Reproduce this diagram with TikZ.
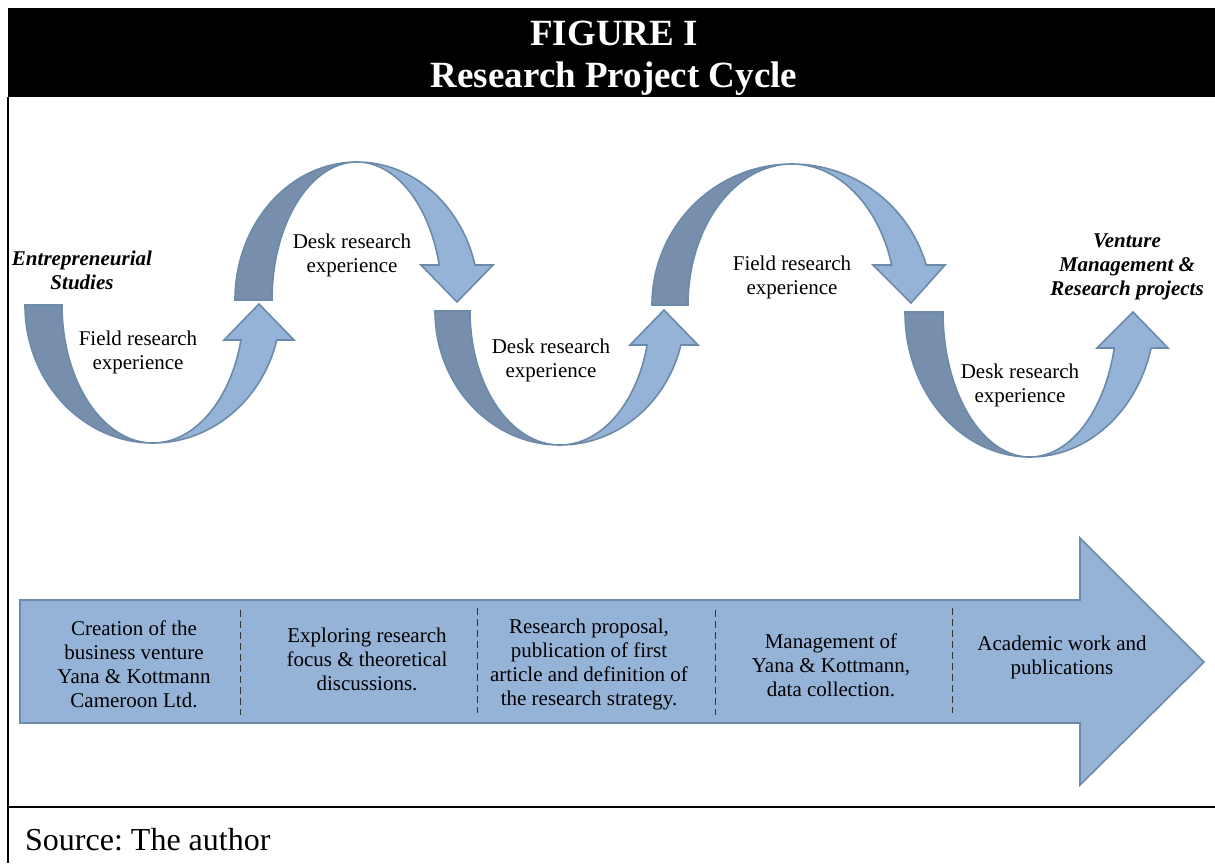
\documentclass[tikz,border=0pt]{standalone}
\usepackage{fontspec}
\setmainfont{Liberation Serif}
\frenchspacing
\definecolor{bandlight}{HTML}{95B3D7}
\definecolor{banddark}{HTML}{778FAC}
\definecolor{bandline}{HTML}{6C8AAA}

\begin{document}
\begin{tikzpicture}[x=1pt,y=1pt,
  lightband/.style={draw=bandline,line width=1.6pt,fill=bandlight},
  darkband/.style={draw=bandline,line width=1.6pt,fill=banddark},
  cyctext/.style={font=\fontsize{21}{24}\selectfont,align=center,inner sep=0pt},
  endtext/.style={font=\fontsize{21}{24}\selectfont\bfseries\itshape,align=center,inner sep=0pt},
  divider/.style={line width=1pt,dash pattern=on 7pt off 4pt,black!80}]

\useasboundingbox (0,0) rectangle (1215,-863);

% frame and title bar
\fill[black] (8,-8) rectangle (1215,-97);
\draw[line width=2pt] (8,-97) -- (8,-863);
\draw[line width=2pt] (8,-807) -- (1215,-807);
\node[font=\fontsize{37}{42}\selectfont\bfseries,text=white,align=center,inner sep=0pt] (title) at (614,-58) {FIGURE I\\Research Project Cycle};

% first loop down
\draw[darkband] (25,-305) arc[start angle=180,end angle=270,x radius=128,y radius=138]
  arc[start angle=270,end angle=180,x radius=91,y radius=138] -- cycle;
\draw[lightband] (153,-443) arc[start angle=270,end angle=345.3,x radius=128,y radius=138]
  -- (294,-340) -- (259,-304) -- (224,-340) -- (241,-340)
  arc[start angle=345.3,end angle=270,x radius=91,y radius=138] -- cycle;

% first loop up
\draw[darkband] (235,-300) arc[start angle=180,end angle=90,x radius=122,y radius=138]
  arc[start angle=90,end angle=180,x radius=85,y radius=138] -- cycle;
\draw[lightband] (357,-162) arc[start angle=90,end angle=14.7,x radius=122,y radius=138]
  -- (493,-265) -- (457,-302) -- (421,-265) -- (439.2,-265)
  arc[start angle=14.7,end angle=90,x radius=85,y radius=138] -- cycle;

% second loop down
\draw[darkband] (435,-311) arc[start angle=180,end angle=270,x radius=125,y radius=134]
  arc[start angle=270,end angle=180,x radius=90,y radius=134] -- cycle;
\draw[lightband] (560,-445) arc[start angle=270,end angle=345.3,x radius=125,y radius=134]
  -- (698,-345) -- (664,-310) -- (630,-345) -- (647.1,-345)
  arc[start angle=345.3,end angle=270,x radius=90,y radius=134] -- cycle;

% second loop up
\draw[darkband] (652,-305) arc[start angle=180,end angle=90,x radius=140,y radius=141]
  arc[start angle=90,end angle=180,x radius=104,y radius=141] -- cycle;
\draw[lightband] (792,-164) arc[start angle=90,end angle=16.48,x radius=140,y radius=141]
  -- (945,-265) -- (911,-303) -- (873,-265) -- (891.7,-265)
  arc[start angle=16.48,end angle=90,x radius=104,y radius=141] -- cycle;

% third loop down
\draw[darkband] (905,-312) arc[start angle=180,end angle=270,x radius=125,y radius=145]
  arc[start angle=270,end angle=180,x radius=87,y radius=145] -- cycle;
\draw[lightband] (1030,-457) arc[start angle=270,end angle=345.6,x radius=125,y radius=145]
  -- (1168,-348) -- (1133,-312) -- (1097,-348) -- (1114.3,-348)
  arc[start angle=345.6,end angle=270,x radius=87,y radius=145] -- cycle;

% loop labels
\node[endtext] (entre) at (82,-270) {Entrepreneurial\\Studies};
\node[cyctext] (field1) at (138,-352) {Field research\\experience};
\node[cyctext] (desk1) at (352,-255) {Desk research\\experience};
\node[cyctext] (desk2) at (551,-360) {Desk research\\experience};
\node[cyctext] (field2) at (792,-277) {Field research\\experience};
\node[cyctext] (desk3) at (1020,-385) {Desk research\\experience};
\node[endtext] (venture) at (1127,-267) {Venture\\Management \&\\Research projects};

% time line arrow
\draw[lightband] (20,-600) -- (1080,-600) -- (1080,-538) -- (1204,-662)
  -- (1080,-785) -- (1080,-723) -- (20,-723) -- cycle;
\draw[divider] (240,-610) -- (240,-715);
\draw[divider] (477,-608) -- (477,-713);
\draw[divider] (715,-610) -- (715,-715);
\draw[divider] (952,-608) -- (952,-713);

\node[cyctext] (stage1) at (134,-664) {Creation of the\\business venture\\Yana \& Kottmann\\Cameroon Ltd.};
\node[cyctext] (stage2) at (367,-659) {Exploring research\\focus \& theoretical\\discussions.};
\node[cyctext] (stage3) at (589,-664) {Research proposal,\\publication of first\\article and definition of\\the research strategy.};
\node[cyctext] (stage4) at (831,-665) {Management of\\Yana \& Kottmann,\\data collection.};
\node[cyctext] (stage5) at (1062,-657) {Academic work and\\publications};

\node[font=\fontsize{32}{38}\selectfont,anchor=west,inner sep=0pt] (source) at (25,-840) {Source: The author};

\end{tikzpicture}
\end{document}
